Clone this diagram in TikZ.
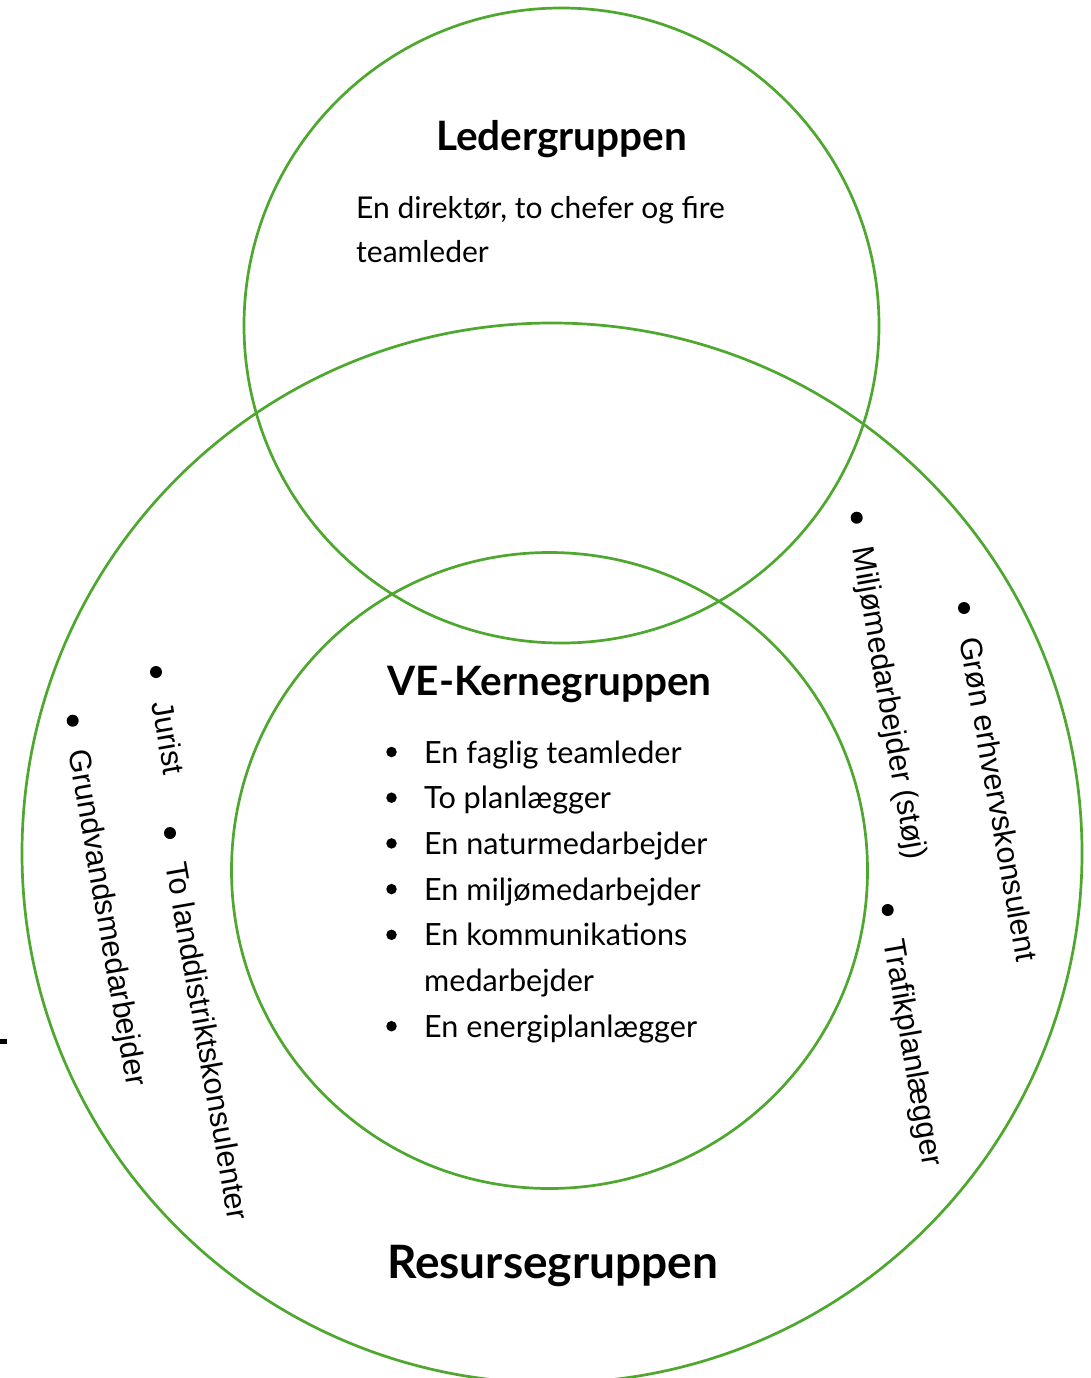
\documentclass[tikz,border=0pt]{standalone}
\usepackage{fontspec}
\setmainfont{Lato}
\newfontfamily\arialfont{Liberation Sans}
\usetikzlibrary{calc}
\definecolor{vgreen}{HTML}{4EA72E}
\begin{document}
\begin{tikzpicture}[x=1pt,y=-1pt,
  ring/.style={draw=vgreen, line width=2.7pt},
  title/.style={font=\fontsize{40.5}{42}\selectfont\bfseries, anchor=base, inner sep=0pt},
  body/.style={font=\fontsize{30}{36}\selectfont, anchor=base west, inner sep=0pt},
  item/.style={font=\fontsize{30.6}{36}\selectfont, anchor=base west, inner sep=0pt},
  ldot/.style={circle, fill=black, inner sep=0pt, minimum size=10.5pt},
  sdot/.style={circle, fill=black, inner sep=0pt, minimum size=12pt},
  vtext/.style={font=\arialfont\fontsize{30.8}{36}\selectfont, rotate=-80, anchor=base west, inner sep=0pt}
]
\useasboundingbox (0,0) rectangle (1091,1378);
\fill[white] (0,0) rectangle (1091,1378);
\clip (0,0) rectangle (1091,1378);

% circles
\draw[ring] (561.5,325.5) circle[radius=317.5pt];
\draw[ring] (552,853) circle[radius=530pt];
\draw[ring] (549.5,870.5) circle[radius=318pt];

% small mark at left edge
\fill[black] (0,1039) rectangle (7,1043.5);

% Ledergruppen
\node[title] (led) at (561.5,150) {Ledergruppen};
\node[body] (led1) at (356,218) {En direktør, to chefer og fire};
\node[body] (led2) at (356,262) {teamleder};

% VE-Kernegruppen
\node[title] (ve) at (549.5,695) {VE-Kernegruppen};
\node[item] (k1) at (424,763) {En faglig teamleder};
\node[item] (k2) at (424,808.7) {To planlægger};
\node[item] (k3) at (424,854.4) {En naturmedarbejder};
\node[item] (k4) at (424,900.1) {En miljømedarbejder};
\node[item] (k5) at (424,945.8) {En kommunikations};
\node[item] (k5b) at (424,991.5) {medarbejder};
\node[item] (k6) at (424,1037.2) {En energiplanlægger};
\node[ldot] (kb1) at (391.5,752) {};
\node[ldot] (kb2) at (391.5,797.7) {};
\node[ldot] (kb3) at (391.5,843.4) {};
\node[ldot] (kb4) at (391.5,889.1) {};
\node[ldot] (kb5) at (391.5,934.8) {};
\node[ldot] (kb6) at (391.5,1026.2) {};

% Resursegruppen
\node[title, font=\fontsize{46}{48}\selectfont\bfseries] (res) at (552.5,1278) {Resursegruppen};

% rotated members
\node[sdot] (b1) at (156,672) {};
\node[vtext] (t1) at ($(b1)+(-4.5,31)$) {Jurist};
\node[sdot] (b2) at (72.7,720.7) {};
\node[vtext] (t2) at ($(b2)+(-4.5,31)$) {Grundvandsmedarbejder};
\node[sdot] (b3) at (170,833) {};
\node[vtext] (t3) at ($(b3)+(-4.5,31)$) {To landdistriktskonsulenter};
\node[sdot] (b4) at (856.7,517.7) {};
\node[vtext] (t4) at ($(b4)+(-4.5,31)$) {Miljømedarbejder (støj)};
\node[sdot] (b5) at (964,608) {};
\node[vtext] (t5) at ($(b5)+(-4.5,31)$) {Grøn erhvervskonsulent};
\node[sdot] (b6) at (887.7,910) {};
\node[vtext] (t6) at ($(b6)+(-4.5,31)$) {Trafikplanlægger};
\end{tikzpicture}
\end{document}
